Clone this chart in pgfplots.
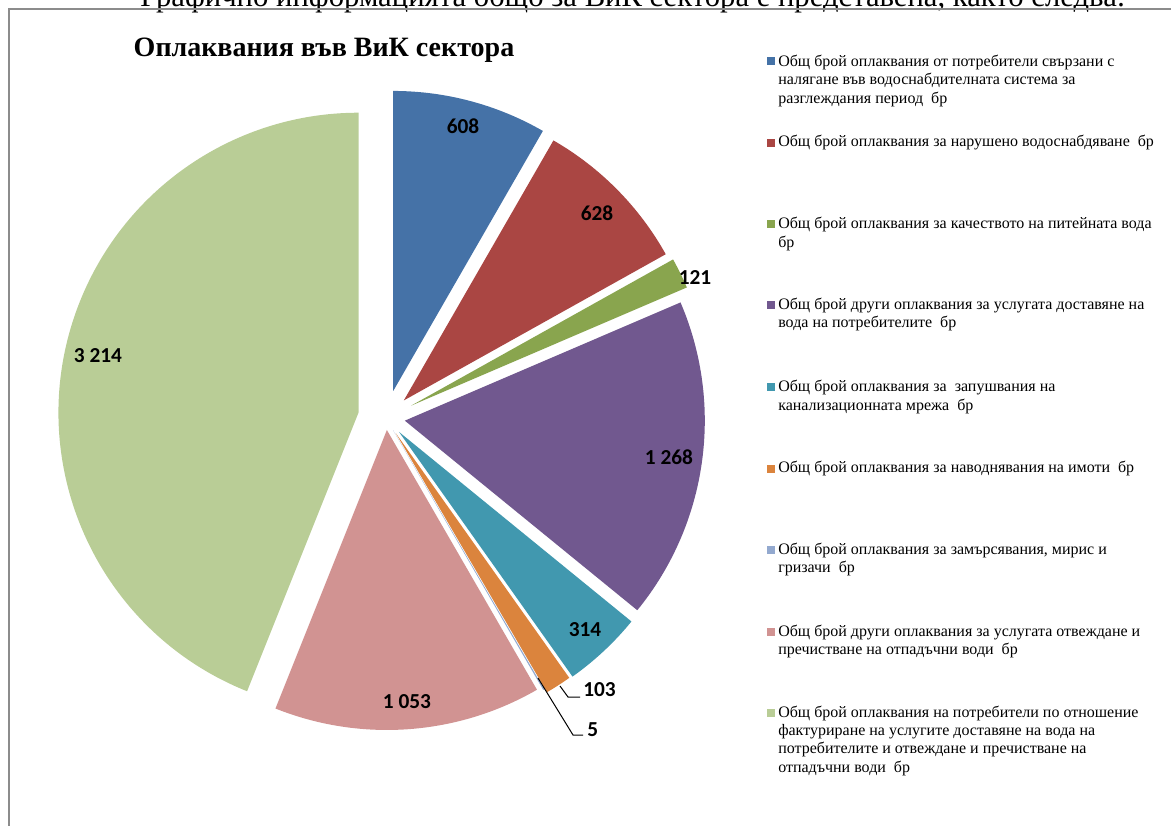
\documentclass[border=0pt]{standalone}
\usepackage{pgfplots}
\usepackage{pgfplotstable}
\pgfplotsset{compat=1.18}
\usepackage{fontspec}
\setmainfont{Liberation Serif}
\newfontfamily\lblfont{Carlito}

% slice colours (Excel style)
\definecolor{slice0}{HTML}{4572A7}
\definecolor{slice1}{HTML}{AA4643}
\definecolor{slice2}{HTML}{89A54E}
\definecolor{slice3}{HTML}{71588F}
\definecolor{slice4}{HTML}{4198AF}
\definecolor{slice5}{HTML}{DB843D}
\definecolor{slice6}{HTML}{93A9CF}
\definecolor{slice7}{HTML}{D19392}
\definecolor{slice8}{HTML}{B9CD96}
\definecolor{frame}{HTML}{8C8C8C}

% value, explosion (px)
\pgfplotstableread{
v    d
608  28
628  25
121  28
1268 19
314  19
103  18
5    14
1053 12
3214 28
}\piedata

% 1 px of the reference = 0.75pt
\newcommand\legsq[1]{\fill[#1] (axis cs:767,57) rectangle (axis cs:774.5,64.5);}

\begin{document}
\begin{tikzpicture}
% angles of the slices, clockwise from 12 o'clock
\def\total{0}
\pgfplotsforeachungrouped \i in {0,...,8}{%
  \pgfplotstablegetelem{\i}{v}\of\piedata
  \pgfmathsetmacro\total{\total+\pgfplotsretval}}
\def\cum{0}
\pgfplotsforeachungrouped \i in {0,...,8}{%
  \pgfplotstablegetelem{\i}{v}\of\piedata \let\v\pgfplotsretval
  \pgfplotstablegetelem{\i}{d}\of\piedata \let\dd\pgfplotsretval
  \pgfmathsetmacro\a{90-(\cum/\total)*360}
  \pgfmathsetmacro\cum{\cum+\v}
  \pgfmathsetmacro\b{90-(\cum/\total)*360}
  \pgfmathsetmacro\m{(\a+\b)/2}
  \pgfmathsetmacro\ax{386+\dd*cos(\m)}
  \pgfmathsetmacro\ay{418-\dd*sin(\m)}
  \expandafter\xdef\csname sa\i\endcsname{\a}%
  \expandafter\xdef\csname sb\i\endcsname{\b}%
  \expandafter\xdef\csname ax\i\endcsname{\ax}%
  \expandafter\xdef\csname ay\i\endcsname{\ay}%
}
\begin{axis}[
  width=878.25pt, height=618.75pt, scale only axis,
  xmin=0, xmax=1171, ymin=0, ymax=825, y dir=reverse,
  hide axis, clip=false]

% text of the page above the chart, cut by the top edge as in the reference
\node[anchor=base west, font=\fontsize{23pt}{26pt}\selectfont, inner sep=0pt]
  at (axis cs:140,6) {Графично информацията общо за ВиК сектора е представена, както следва:};
% chart frame
\draw[frame, line width=1.1pt] (axis cs:9,840) -- (axis cs:9,9) -- (axis cs:1180,9);

\node[anchor=base, font=\fontsize{21pt}{24pt}\selectfont\bfseries, inner sep=0pt]
  at (axis cs:324,56) {Оплаквания във ВиК сектора};

% slices
\pgfplotsinvokeforeach{0,...,8}{
  \fill[slice#1] (axis cs:\csname ax#1\endcsname,\csname ay#1\endcsname)
    -- ++(\csname sa#1\endcsname:225pt)
    arc[start angle=\csname sa#1\endcsname, end angle=\csname sb#1\endcsname, radius=225pt]
    -- cycle;
}

% data labels
\begin{scope}[every node/.style={font=\lblfont\fontsize{16pt}{18pt}\selectfont\bfseries, inner sep=0pt}]
\node at (axis cs:463,126) {608};
\node at (axis cs:597,213) {628};
\node at (axis cs:695,277) {121};
\node at (axis cs:669,457) {1 268};
\node at (axis cs:585,630) {314};
\node[anchor=west] at (axis cs:583,690) {103};
\node[anchor=west] at (axis cs:587,730) {5};
\node at (axis cs:407,702) {1 053};
\node at (axis cs:98,356) {3 214};
\end{scope}
\draw[line width=0.75pt] (axis cs:560,686) -- (axis cs:568,697) -- (axis cs:580,697);
\draw[line width=0.75pt] (axis cs:538,678) -- (axis cs:573,735) -- (axis cs:583,735);

% legend
\begin{scope}[every node/.style={anchor=base west, inner sep=0pt,
    font=\fontsize{12pt}{14pt}\selectfont}]
\legsq{slice0}
\node at (axis cs:778,66) {Общ брой оплаквания от потребители свързани с};
\node at (axis cs:778,84) {налягане във водоснабдителната система за};
\node at (axis cs:778,103) {разглеждания период\ \ бр};
\begin{scope}[yshift=-61.5pt]
\legsq{slice1}
\end{scope}
\node at (axis cs:778,146) {Общ брой оплаквания за нарушено водоснабдяване\ \ бр};
\begin{scope}[yshift=-122.25pt]
\legsq{slice2}
\end{scope}
\node at (axis cs:778,228) {Общ брой оплаквания за качеството на питейната вода};
\node at (axis cs:778,247) {бр};
\begin{scope}[yshift=-183pt]
\legsq{slice3}
\end{scope}
\node at (axis cs:778,309) {Общ брой други оплаквания за услугата доставяне на};
\node at (axis cs:778,327) {вода на потребителите\ \ бр};
\begin{scope}[yshift=-244.5pt]
\legsq{slice4}
\end{scope}
\node at (axis cs:778,391) {Общ брой оплаквания за\ \ запушвания на};
\node at (axis cs:778,410) {канализационната мрежа\ \ бр};
\begin{scope}[yshift=-306pt]
\legsq{slice5}
\end{scope}
\node at (axis cs:778,472) {Общ брой оплаквания за наводнявания на имоти\ \ бр};
\begin{scope}[yshift=-366.75pt]
\legsq{slice6}
\end{scope}
\node at (axis cs:778,554) {Общ брой оплаквания за замърсявания, мирис и};
\node at (axis cs:778,572) {гризачи\ \ бр};
\begin{scope}[yshift=-428.25pt]
\legsq{slice7}
\end{scope}
\node at (axis cs:778,636) {Общ брой други оплаквания за услугата отвеждане и};
\node at (axis cs:778,654) {пречистване на отпадъчни води\ \ бр};
\begin{scope}[yshift=-489pt]
\legsq{slice8}
\end{scope}
\node at (axis cs:778,717) {Общ брой оплаквания на потребители по отношение};
\node at (axis cs:778,735) {фактуриране на услугите доставяне на вода на};
\node at (axis cs:778,753) {потребителите и отвеждане и пречистване на};
\node at (axis cs:778,772) {отпадъчни води\ \ бр};
\end{scope}
\end{axis}
\pgfresetboundingbox
\useasboundingbox (0,0) rectangle (878.25pt,618.75pt);
\end{tikzpicture}
\end{document}
